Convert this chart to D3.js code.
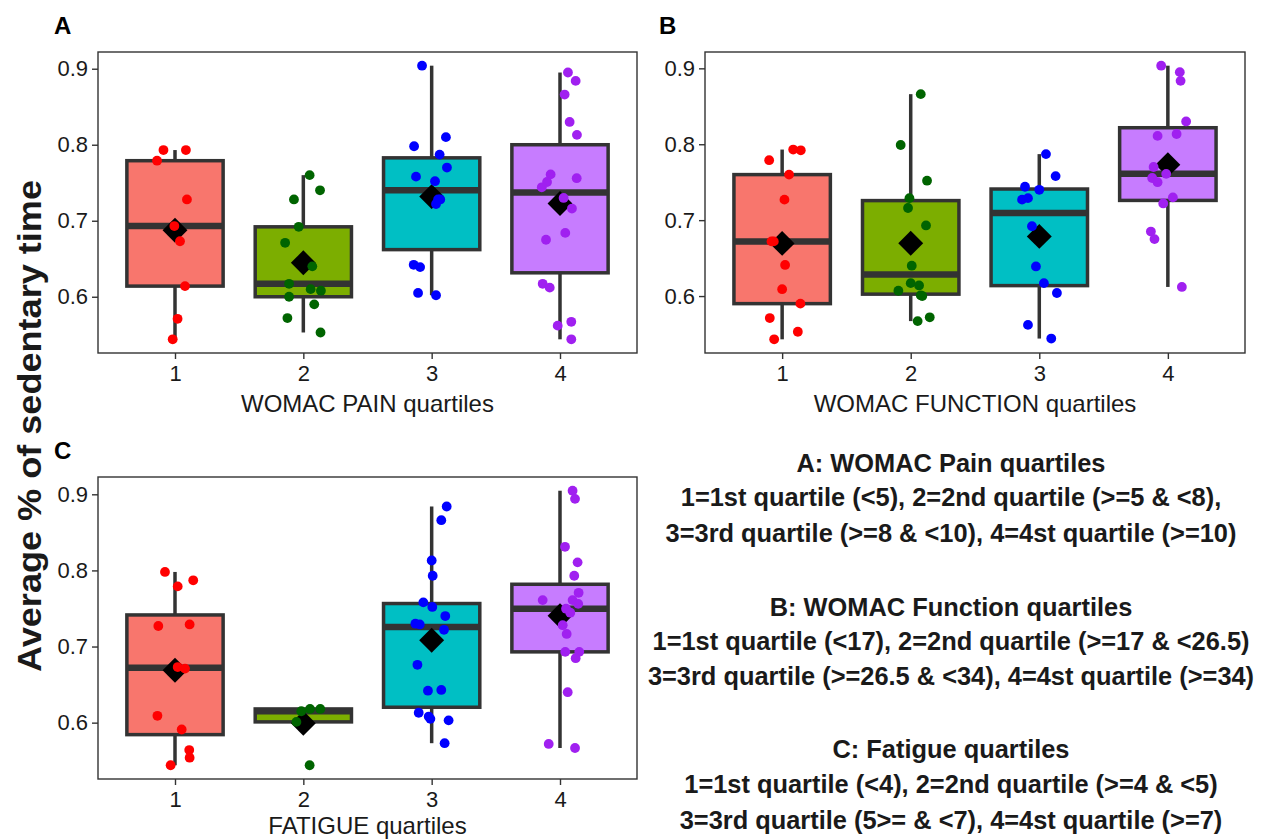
<!DOCTYPE html>
<html>
<head>
<meta charset="utf-8">
<script src="https://cdn.jsdelivr.net/npm/d3@7"></script>
<style>
  html, body { margin: 0; padding: 0; background: #fff; }
  svg { display: block; font-family: "Liberation Sans", Arial, sans-serif; }
</style>
</head>
<body>
<svg id="chart" width="1272" height="840"></svg>
<script>
// ---------------- DATA ----------------
const categories = ["1", "2", "3", "4"];
const boxFills = ["#F8766D", "#7CAE00", "#00BFC4", "#C77CFF"];
const pointColors = ["#FF0000", "#006400", "#0000FF", "#A020F0"];
const yTicks = [0.6, 0.7, 0.8, 0.9];

// Panel A: WOMAC pain quartiles
const painValues = [
  [0.793, 0.793, 0.779, 0.728, 0.693, 0.673, 0.614, 0.571, 0.544],
  [0.760, 0.740, 0.728, 0.692, 0.671, 0.640, 0.617, 0.610, 0.608, 0.600, 0.590, 0.572, 0.553],
  [0.904, 0.810, 0.798, 0.787, 0.770, 0.758, 0.752, 0.728, 0.722, 0.728, 0.642, 0.639, 0.605, 0.602],
  [0.895, 0.884, 0.866, 0.830, 0.813, 0.761, 0.751, 0.744, 0.756, 0.730, 0.716, 0.684, 0.675, 0.617, 0.612, 0.562, 0.567, 0.544]
];
// horizontal jitter of each point, in category-step units
const painJitter = [
  [-0.09, 0.085, -0.14, 0.093, -0.005, 0.039, 0.078, 0.02, -0.018],
  [0.049, 0.13, -0.073, -0.036, -0.142, 0.07, -0.111, 0.057, 0.137, -0.111, 0.085, -0.124, 0.134],
  [-0.075, 0.111, -0.137, 0.062, 0.119, -0.122, 0.026, 0.067, 0.034, 0.05, -0.14, -0.09, -0.106, 0.034],
  [0.062, 0.122, 0.036, 0.075, 0.132, -0.073, -0.101, -0.142, 0.13, 0.028, 0.093, 0.041, -0.109, -0.135, -0.08, -0.018, 0.088, 0.088]
];

// Panel B: WOMAC function quartiles
const functionValues = [
  [0.793, 0.792, 0.779, 0.760, 0.727, 0.672, 0.672, 0.641, 0.609, 0.590, 0.571, 0.553, 0.543],
  [0.866, 0.799, 0.752, 0.729, 0.716, 0.693, 0.640, 0.617, 0.614, 0.607, 0.601, 0.600, 0.567, 0.572],
  [0.787, 0.758, 0.744, 0.740, 0.727, 0.729, 0.692, 0.639, 0.617, 0.604, 0.562, 0.544],
  [0.9035, 0.895, 0.8835, 0.830, 0.811, 0.8135, 0.770, 0.761, 0.7555, 0.750, 0.730, 0.722, 0.685, 0.675, 0.612]
];
const functionJitter = [
  [0.086, 0.145, -0.101, 0.054, 0.018, -0.083, -0.065, 0.023, 0, 0.142, -0.096, 0.122, -0.062],
  [0.078, -0.078, 0.127, -0.01, -0.021, 0.119, 0.008, 0, 0.065, -0.096, 0.078, 0.09, 0.054, 0.148],
  [0.052, 0.127, -0.111, 0, -0.134, -0.088, -0.057, -0.026, 0.036, 0.137, -0.088, 0.093],
  [-0.052, 0.093, 0.099, 0.142, -0.08, 0.068, -0.111, -0.013, -0.122, -0.08, 0.039, -0.036, -0.132, -0.104, 0.109]
];

// Panel C: fatigue quartiles
const fatigueValues = [
  [0.798, 0.787, 0.779, 0.727, 0.729, 0.673, 0.671, 0.609, 0.591, 0.564, 0.554, 0.544],
  [0.615, 0.618, 0.618, 0.601, 0.544],
  [0.884, 0.866, 0.813, 0.793, 0.758, 0.752, 0.740, 0.730, 0.729, 0.722, 0.676, 0.642, 0.643, 0.613, 0.608, 0.605, 0.603, 0.573],
  [0.9047, 0.894, 0.831, 0.8106, 0.793, 0.7706, 0.761, 0.761, 0.756, 0.7497, 0.7445, 0.728, 0.7165, 0.693, 0.693, 0.6847, 0.640, 0.572, 0.5667]
];
const fatigueJitter = [
  [-0.078, 0.142, 0.021, -0.13, 0.114, 0.021, 0.078, -0.137, 0.052, 0.111, 0.114, -0.034],
  [-0.016, 0.052, 0.132, -0.054, 0.049],
  [0.117, 0.075, 0, 0.008, -0.065, 0.005, 0.106, -0.127, -0.093, 0.096, -0.111, -0.029, 0.075, -0.101, -0.023, -0.01, 0.132, 0.101],
  [0.098, 0.117, 0.039, 0.137, 0.111, 0.145, -0.135, 0.098, 0.142, 0.047, 0.08, 0.021, 0.052, 0.041, 0.15, 0.122, 0.06, -0.088, 0.117]
];

const panelLabels = ["A", "B", "C"];
const xTitles = ["WOMAC PAIN quartiles", "WOMAC FUNCTION quartiles", "FATIGUE quartiles"];
const yTitle = "Average % of sedentary time";
const annotationLines = [
  "A: WOMAC Pain quartiles",
  "1=1st quartile (<5), 2=2nd quartile (>=5 & <8),",
  "3=3rd quartile (>=8 & <10), 4=4st quartile (>=10)",
  "B: WOMAC Function quartiles",
  "1=1st quartile (<17), 2=2nd quartile (>=17 & <26.5)",
  "3=3rd quartile (>=26.5 & <34), 4=4st quartile (>=34)",
  "C: Fatigue quartiles",
  "1=1st quartile (<4), 2=2nd quartile (>=4 & <5)",
  "3=3rd quartile (5>= & <7), 4=4st quartile (>=7)"
];

// ---------------- LAYOUT ----------------
const svg = d3.select("#chart");
const textColor = "#1a1a1a";
const lineColor = "#333333";

const panels = [
  { values: painValues, jitter: painJitter, x0: 98, x1: 637, y0: 52, y1: 353, lx: 54, ly: 34, ty: 412 },
  { values: functionValues, jitter: functionJitter, x0: 705, x1: 1245, y0: 52, y1: 353, lx: 659, ly: 34, ty: 412 },
  { values: fatigueValues, jitter: fatigueJitter, x0: 98, x1: 637, y0: 477, y1: 779, lx: 54, ly: 459, ty: 834 }
];

function boxStats(vals) {
  const s = vals.slice().sort(d3.ascending);
  const q1 = d3.quantile(s, 0.25), med = d3.quantile(s, 0.5), q3 = d3.quantile(s, 0.75);
  const iqr = q3 - q1;
  const hiLim = q3 + 1.5 * iqr, loLim = q1 - 1.5 * iqr;
  const whiHi = d3.max(s.filter(v => v <= hiLim));
  const whiLo = d3.min(s.filter(v => v >= loLim));
  return { q1, med, q3, whiHi, whiLo, mean: d3.mean(s) };
}

panels.forEach((p, pi) => {
  const all = p.values.flat();
  const [mn, mx] = d3.extent(all);
  const pad = (mx - mn) * 0.05;
  const y = d3.scaleLinear().domain([mn - pad, mx + pad]).range([p.y1, p.y0]);
  const x = d3.scalePoint().domain(categories).range([p.x0, p.x1]).padding(0.6);
  const step = x.step();
  const bw = step * 0.75;

  const g = svg.append("g");

  // boxes
  categories.forEach((c, ci) => {
    const st = boxStats(p.values[ci]);
    const cx = x(c);
    const gb = g.append("g");
    gb.append("line").attr("x1", cx).attr("x2", cx)
      .attr("y1", y(st.q3)).attr("y2", y(st.whiHi))
      .attr("stroke", lineColor).attr("stroke-width", 3.5);
    gb.append("line").attr("x1", cx).attr("x2", cx)
      .attr("y1", y(st.q1)).attr("y2", y(st.whiLo))
      .attr("stroke", lineColor).attr("stroke-width", 3.5);
    gb.append("rect")
      .attr("x", cx - bw / 2).attr("width", bw)
      .attr("y", y(st.q3)).attr("height", y(st.q1) - y(st.q3))
      .attr("fill", boxFills[ci]).attr("stroke", lineColor).attr("stroke-width", 3.5);
    gb.append("line").attr("x1", cx - bw / 2).attr("x2", cx + bw / 2)
      .attr("y1", y(st.med)).attr("y2", y(st.med))
      .attr("stroke", lineColor).attr("stroke-width", 6.5);
    gb.append("path")
      .attr("d", d3.symbol(d3.symbolSquare, 310)())
      .attr("transform", `translate(${cx},${y(st.mean)}) rotate(45)`)
      .attr("fill", "#000");
  });

  // jittered points
  categories.forEach((c, ci) => {
    g.append("g").selectAll("circle")
      .data(p.values[ci].map((v, k) => ({ v, j: p.jitter[ci][k] })))
      .join("circle")
      .attr("cx", d => x(c) + d.j * step)
      .attr("cy", d => y(d.v))
      .attr("r", 4.9)
      .attr("fill", pointColors[ci]);
  });

  // panel border
  g.append("rect")
    .attr("x", p.x0).attr("y", p.y0)
    .attr("width", p.x1 - p.x0).attr("height", p.y1 - p.y0)
    .attr("fill", "none").attr("stroke", lineColor).attr("stroke-width", 1.4);

  // axes
  const ya = g.append("g").attr("transform", `translate(${p.x0},0)`)
    .call(d3.axisLeft(y).tickValues(yTicks).tickFormat(d3.format(".1f")).tickSize(6).tickPadding(4));
  const xa = g.append("g").attr("transform", `translate(0,${p.y1})`)
    .call(d3.axisBottom(x).tickSize(6).tickPadding(6));
  [ya, xa].forEach(a => {
    a.select(".domain").remove();
    a.selectAll(".tick line").attr("stroke", lineColor).attr("stroke-width", 1.4);
    a.selectAll(".tick text").attr("fill", textColor)
      .style("font-size", "22px").style("font-family", "'Liberation Sans', Arial, sans-serif");
  });

  // x title
  g.append("text")
    .attr("x", (p.x0 + p.x1) / 2).attr("y", p.ty)
    .attr("text-anchor", "middle")
    .attr("fill", textColor)
    .style("font-size", "24px")
    .text(xTitles[pi]);

  // panel label
  g.append("text")
    .attr("x", p.lx).attr("y", p.ly)
    .attr("fill", "#000")
    .style("font-size", "24px").style("font-weight", "bold")
    .text(panelLabels[pi]);
});

// shared y title
svg.append("text")
  .attr("transform", "translate(41,426) rotate(-90)")
  .attr("text-anchor", "middle")
  .attr("fill", textColor)
  .attr("textLength", 492).attr("lengthAdjust", "spacingAndGlyphs")
  .style("font-size", "34px").style("font-weight", "bold")
  .text(yTitle);

// annotation block
const annY = [472, 506, 542, 616, 650, 685, 758, 793, 829];
svg.append("g").selectAll("text")
  .data(annotationLines)
  .join("text")
  .attr("x", 951)
  .attr("y", (d, i) => annY[i])
  .attr("text-anchor", "middle")
  .attr("fill", textColor)
  .style("font-size", "25.4px").style("font-weight", "bold")
  .text(d => d);
</script>
</body>
</html>
